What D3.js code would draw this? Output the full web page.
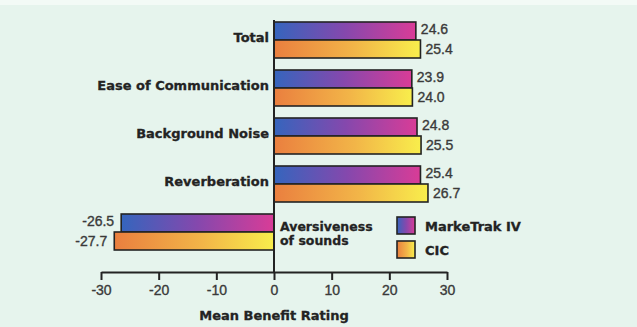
<!DOCTYPE html>
<html>
<head>
<meta charset="utf-8">
<script src="https://cdn.jsdelivr.net/npm/d3@7"></script>
<style>
  html, body { margin: 0; padding: 0; background: #e6f4ed; }
  svg { display: block; }
</style>
</head>
<body>
<svg id="chart" width="637" height="327"></svg>
<script>
// Mean benefit ratings by category
const categories = ["Total", "Ease of Communication", "Background Noise", "Reverberation", "Aversiveness of sounds"];
const series = ["MarkeTrak IV", "CIC"];
const marketrak = [24.6, 23.9, 24.8, 25.4, -26.5];
const cic = [25.4, 24.0, 25.5, 26.7, -27.7];
const xTicks = [-30, -20, -10, 0, 10, 20, 30];
const xTitle = "Mean Benefit Rating";

const W = 637, H = 327;
const svg = d3.select("#chart");
const ink = "#232323";
const headFont = "'DejaVu Sans', Verdana, sans-serif";
const numFont = "'Liberation Sans', Arial, sans-serif";
const loc = d3.formatLocale({ decimal: ".", thousands: ",", grouping: [3], currency: ["", ""], minus: "-" });
const fmt1 = loc.format(".1f");
const fmt0 = loc.format("d");

// heavy heading text style
const head = (sel, size) => sel
  .attr("font-family", headFont).attr("font-weight", "bold").attr("font-size", size)
  .attr("fill", ink).attr("stroke", ink).attr("stroke-width", 0.3);

// background
svg.append("rect").attr("width", W).attr("height", H).attr("fill", "#e6f4ed");
svg.append("rect").attr("width", W).attr("height", 5).attr("fill", "#f3faf6");

// gradients for each series
const defs = svg.append("defs");
const gradStops = {
  "MarkeTrak IV": [["0%", "#3565bd"], ["50%", "#8548ad"], ["100%", "#d93c97"]],
  "CIC": [["0%", "#ea7f3f"], ["55%", "#f2b548"], ["100%", "#f8ee4c"]]
};
const gradId = s => s === "CIC" ? "g-cic" : "g-mt";
series.forEach(s => {
  const g = defs.append("linearGradient").attr("id", gradId(s))
    .attr("x1", "0%").attr("x2", "100%").attr("y1", "0%").attr("y2", "0%");
  gradStops[s].forEach(([o, c]) => g.append("stop").attr("offset", o).attr("stop-color", c));
});

const x = d3.scaleLinear().domain([-30, 30]).range([101, 447]);
const y = d3.scaleBand().domain(categories).range([22, 250]).paddingInner(0.25).paddingOuter(0);
const ySub = d3.scaleBand().domain(series).range([0, y.bandwidth()]);

const rows = categories.map((c, i) => ({ cat: c, vals: [
  { s: series[0], v: marketrak[i] },
  { s: series[1], v: cic[i] }
]}));

const groups = svg.append("g").selectAll("g").data(rows).join("g")
  .attr("transform", d => `translate(0,${y(d.cat)})`);

groups.selectAll("rect").data(d => d.vals).join("rect")
  .attr("x", d => x(Math.min(0, d.v)))
  .attr("y", d => ySub(d.s))
  .attr("width", d => Math.abs(x(d.v) - x(0)))
  .attr("height", ySub.bandwidth())
  .attr("fill", d => `url(#${gradId(d.s)})`)
  .attr("stroke", ink).attr("stroke-width", 1.6);

// value labels
groups.selectAll("text.val").data(d => d.vals).join("text")
  .attr("class", "val")
  .attr("x", d => d.v >= 0 ? x(d.v) + 5 : x(d.v) - 7)
  .attr("y", d => ySub(d.s) + ySub.bandwidth() / 2 - (d.s === series[0] ? 2 : 0))
  .attr("dy", "0.36em")
  .attr("text-anchor", d => d.v >= 0 ? "start" : "end")
  .attr("font-family", numFont).attr("font-size", 14)
  .attr("fill", "#3a3a3a").attr("stroke", "#3a3a3a").attr("stroke-width", 0.35)
  .text(d => fmt1(d.v));

// category labels: left of the axis for positive rows, right of it for negative rows
rows.forEach(r => {
  const neg = r.vals[0].v < 0;
  if (!neg) {
    head(svg.append("text"), 13)
      .attr("x", x(0) - 5)
      .attr("y", y(r.cat) + y.bandwidth() / 2 - 3)
      .attr("dy", "0.36em")
      .attr("text-anchor", "end")
      .text(r.cat);
  } else {
    const words = r.cat.split(" ");
    const lines = [words[0], words.slice(1).join(" ")];
    const t = head(svg.append("text"), 12.5);
    lines.forEach((ln, i) => t.append("tspan")
      .attr("x", x(0) + 6)
      .attr("y", y(r.cat) + 17 + i * 14)
      .text(ln));
  }
});

// vertical zero line
svg.append("line")
  .attr("x1", x(0)).attr("x2", x(0))
  .attr("y1", 20).attr("y2", 272)
  .attr("stroke", ink).attr("stroke-width", 2);

// x axis
const axis = svg.append("g").attr("transform", "translate(0,272)")
  .call(d3.axisBottom(x).tickValues(xTicks).tickSize(8).tickSizeOuter(0).tickPadding(5).tickFormat(fmt0));
axis.select(".domain").attr("stroke", ink).attr("stroke-width", 2);
axis.selectAll(".tick line").attr("stroke", ink).attr("stroke-width", 2);
axis.selectAll(".tick text")
  .attr("font-family", numFont).attr("font-size", 14).attr("fill", "#3a3a3a")
  .attr("stroke", "#3a3a3a").attr("stroke-width", 0.35);

head(svg.append("text"), 13)
  .attr("x", x(0)).attr("y", 320)
  .attr("text-anchor", "middle")
  .text(xTitle);

// legend
const legend = svg.append("g").attr("transform", "translate(397,217)");
series.forEach((s, i) => {
  const g = legend.append("g").attr("transform", `translate(0,${i * 24})`);
  g.append("rect").attr("width", 18).attr("height", 17)
    .attr("fill", `url(#${gradId(s)})`)
    .attr("stroke", ink).attr("stroke-width", 1.6);
  head(g.append("text"), 13).attr("x", 28).attr("y", 9).attr("dy", "0.36em")
    .text(s);
});
</script>
</body>
</html>
